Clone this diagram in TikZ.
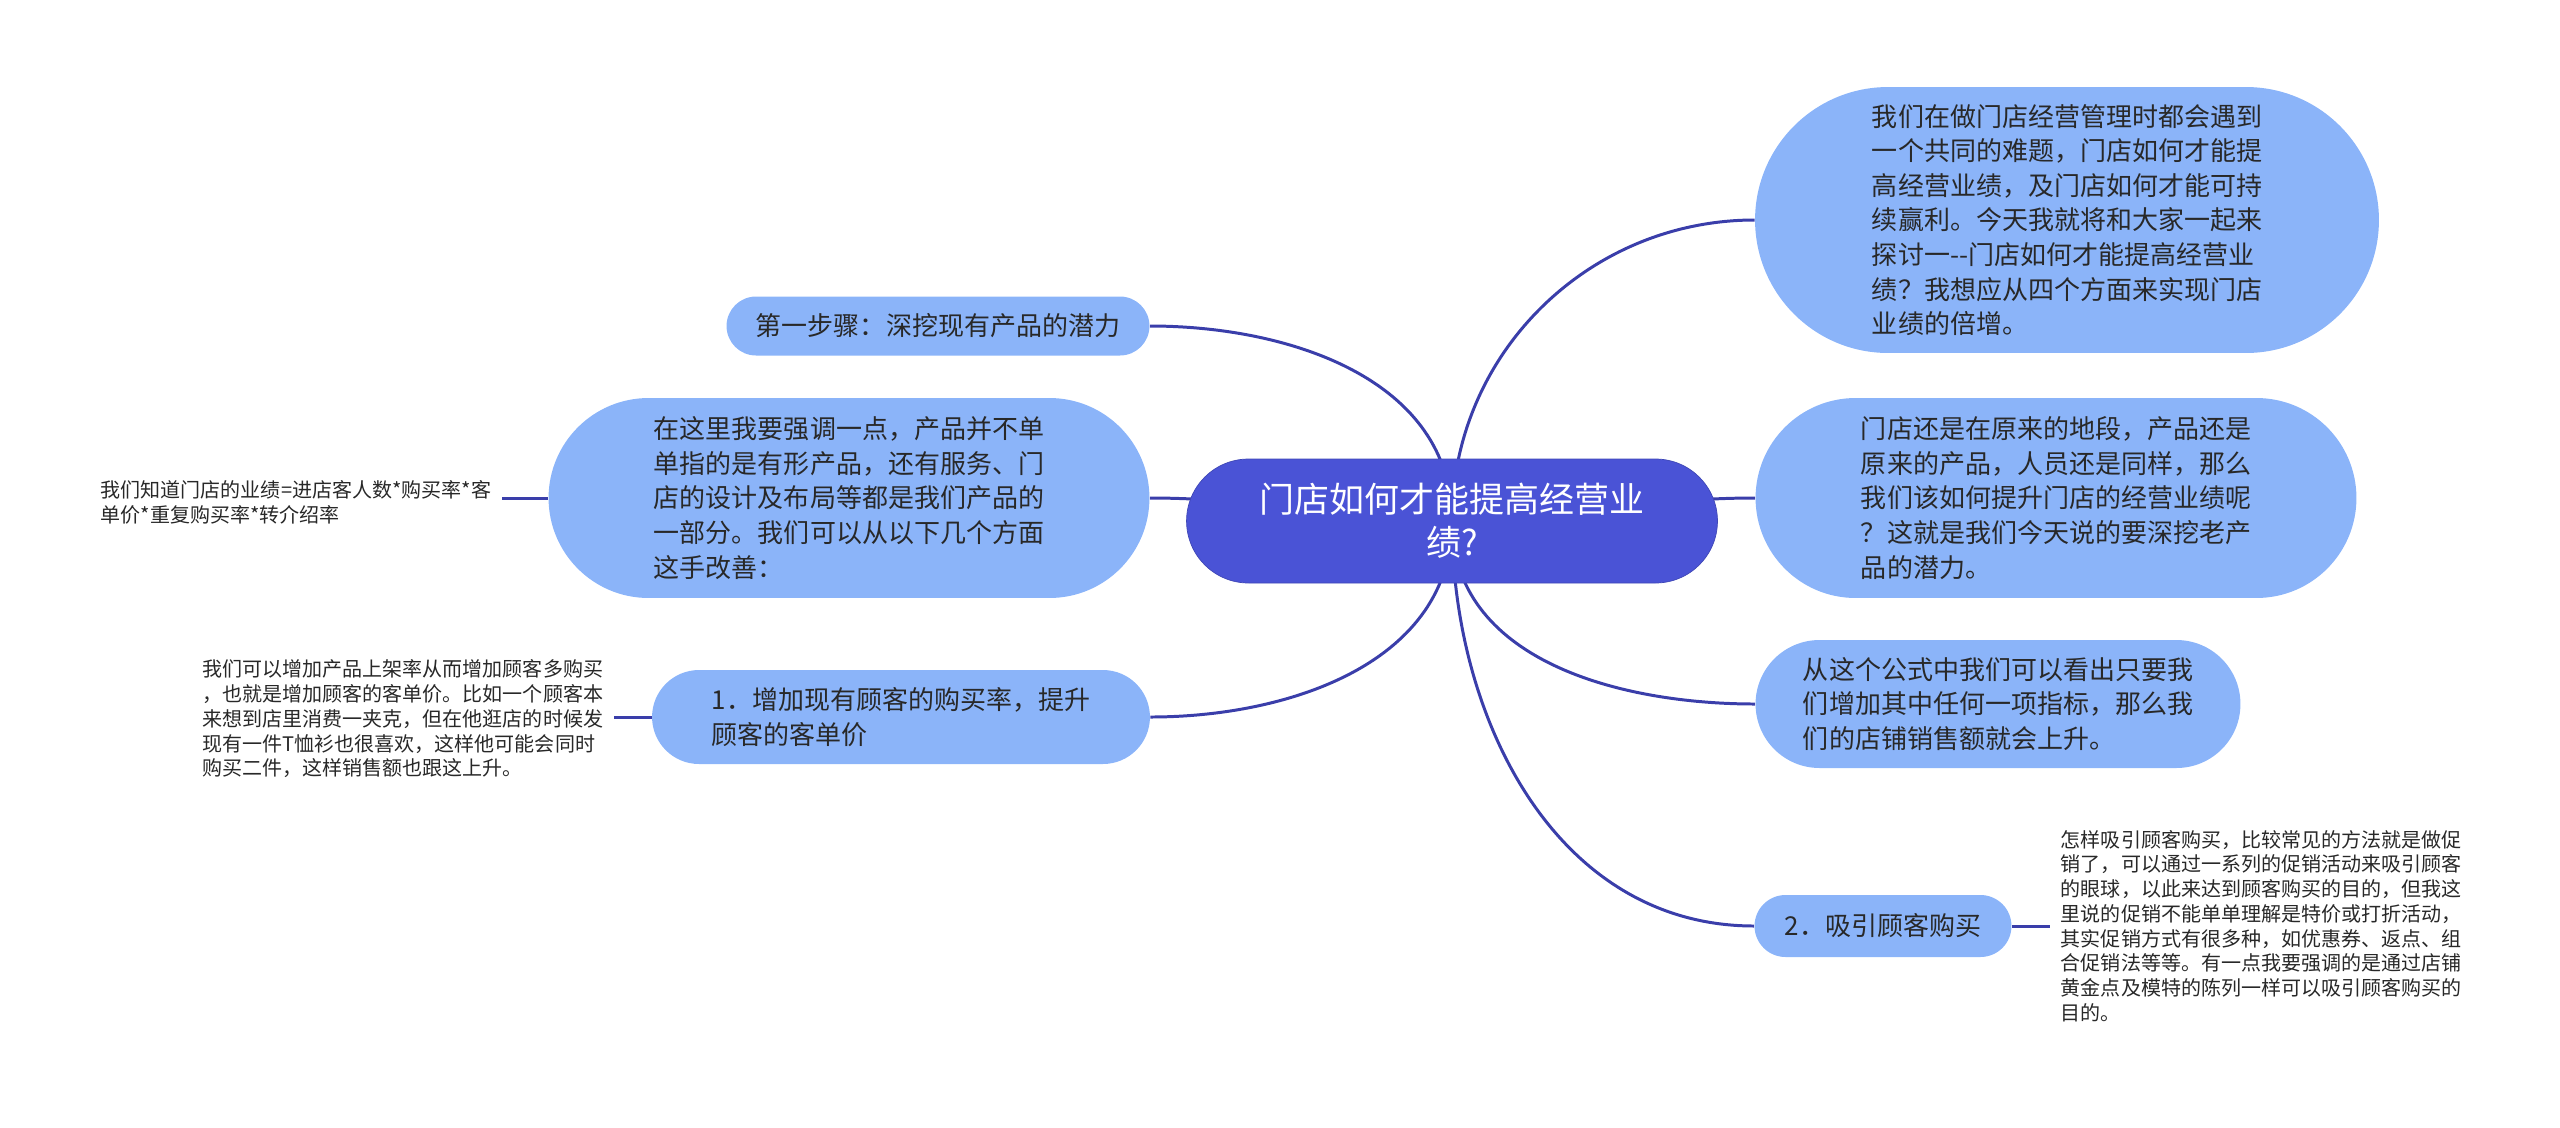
\documentclass[tikz,border=0pt]{standalone}
\usepackage{fontspec}
\setmainfont{Noto Sans CJK SC}
\usetikzlibrary{backgrounds}

\definecolor{rootColor}{RGB}{74,83,214}
\definecolor{topicColor}{RGB}{139,180,249}
\definecolor{lineColor}{RGB}{58,62,170}
\definecolor{textColor}{RGB}{40,40,40}

\begin{document}
\begin{tikzpicture}[x=0.02cm,y=-0.02cm,
  root/.style={draw=rootColor!85!black,fill=rootColor,text=white,align=center,
    minimum width=10.62cm,minimum height=2.48cm,rounded corners=1.24cm,
    font=\fontsize{19.9pt}{24.5pt}\selectfont},
  topic/.style={fill=topicColor,text=textColor,align=left,inner sep=0pt,
    font=\fontsize{14.8pt}{19.7pt}\selectfont},
  leaf/.style={text=textColor,align=left,inner sep=6pt,
    font=\fontsize{11.4pt}{14.1pt}\selectfont},
  link/.style={draw=lineColor,line width=1.7pt}]
\useasboundingbox (0,0) rectangle (2560,1127);
\node[root] (root) at (1452,521) {门店如何才能提高经营业\\绩?};
\node[topic,minimum width=12.48cm,minimum height=5.32cm,rounded corners=2.66cm] (intro) at (2067,220) {我们在做门店经营管理时都会遇到\\一个共同的难题，门店如何才能提\\高经营业绩，及门店如何才能可持\\续赢利。今天我就将和大家一起来\\探讨一-{}-门店如何才能提高经营业\\绩？我想应从四个方面来实现门店\\业绩的倍增。};
\node[topic,minimum width=12.02cm,minimum height=4cm,rounded corners=2cm] (place) at (2056,498) {门店还是在原来的地段，产品还是\\原来的产品，人员还是同样，那么\\我们该如何提升门店的经营业绩呢\\？这就是我们今天说的要深挖老产\\品的潜力。};
\node[topic,minimum width=9.7cm,minimum height=2.56cm,rounded corners=1.28cm] (formula) at (1998,704) {从这个公式中我们可以看出只要我\\们增加其中任何一项指标，那么我\\们的店铺销售额就会上升。};
\node[topic,minimum width=5.14cm,minimum height=1.24cm,rounded corners=0.62cm] (attract) at (1883,926) {2．吸引顾客购买};
\node[leaf,anchor=west] (attractNote) at (2050,926) {怎样吸引顾客购买，比较常见的方法就是做促\\销了，可以通过一系列的促销活动来吸引顾客\\的眼球，以此来达到顾客购买的目的，但我这\\里说的促销不能单单理解是特价或打折活动，\\其实促销方式有很多种，如优惠券、返点、组\\合促销法等等。有一点我要强调的是通过店铺\\黄金点及模特的陈列一样可以吸引顾客购买的\\目的。};
\node[topic,minimum width=8.46cm,minimum height=1.18cm,rounded corners=0.59cm] (step) at (938,326) {第一步骤：深挖现有产品的潜力};
\node[topic,minimum width=12.02cm,minimum height=4cm,rounded corners=2cm] (product) at (849,498) {在这里我要强调一点，产品并不单\\单指的是有形产品，还有服务、门\\店的设计及布局等都是我们产品的\\一部分。我们可以从以下几个方面\\这手改善：};
\node[leaf,anchor=east] (productNote) at (502,502) {我们知道门店的业绩=进店客人数*购买率*客\\单价*重复购买率*转介绍率};
\node[topic,minimum width=9.96cm,minimum height=1.88cm,rounded corners=0.94cm] (rate) at (901,717) {1．增加现有顾客的购买率，提升\\顾客的客单价};
\node[leaf,anchor=east] (rateNote) at (614,719) {我们可以增加产品上架率从而增加顾客多购买\\，也就是增加顾客的客单价。比如一个顾客本\\来想到店里消费一夹克，但在他逛店的时候发\\现有一件T恤衫也很喜欢，这样他可能会同时\\购买二件，这样销售额也跟这上升。};
\begin{scope}[on background layer]
  \draw[link] (root.center) to[out=90,in=180] (intro.west);
  \draw[link] (root.center) to[out=0,in=180] (place.west);
  \draw[link] (root.center) to[out=-90,in=180] (formula.west);
  \draw[link] (root.center) to[out=-90,in=180] (attract.west);
  \draw[link] (root.center) to[out=90,in=0] (step.east);
  \draw[link] (root.center) to[out=180,in=0] (product.east);
  \draw[link] (root.center) to[out=-90,in=0] (rate.east);
  \draw[link] (attract.east) -- (attractNote.west |- attract.east);
  \draw[link] (productNote.east |- product.west) -- (product.west);
  \draw[link] (rateNote.east |- rate.west) -- (rate.west);
\end{scope}
\end{tikzpicture}
\end{document}
